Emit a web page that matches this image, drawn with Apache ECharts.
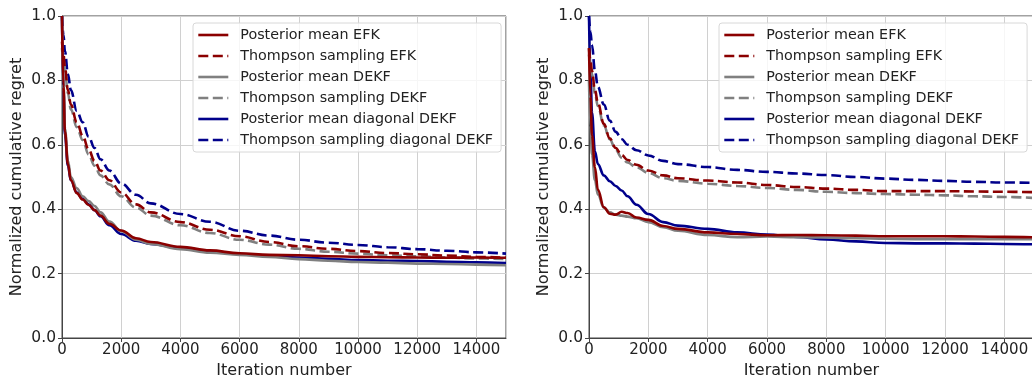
<!DOCTYPE html>
<html>
<head>
<meta charset="utf-8">
<script src="https://cdn.jsdelivr.net/npm/echarts@6/dist/echarts.min.js"></script>
<style>
  html, body { margin: 0; padding: 0; background: #fff; }
  #chart { width: 1032px; height: 377px; }
</style>
</head>
<body>
<div id="chart"></div>
<script>
// iteration numbers shared by every curve
const iters = [0, 50, 100, 200, 300, 500, 700, 900, 1100, 1300, 1600, 2000, 2500, 3000,
  4000, 5000, 6000, 7000, 8000, 9000, 10000, 11000, 12000, 13000, 14000, 15000];

const names = [
  'Posterior mean EFK',
  'Thompson sampling EFK',
  'Posterior mean DEKF',
  'Thompson sampling DEKF',
  'Posterior mean diagonal DEKF',
  'Thompson sampling diagonal DEKF'
];

// left panel
const leftMeanEFK = [1.0, 0.78, 0.64, 0.54, 0.49, 0.45, 0.43, 0.413, 0.397, 0.38, 0.355, 0.334, 0.31, 0.298,
  0.283, 0.272, 0.263, 0.258, 0.257, 0.254, 0.252, 0.251, 0.25, 0.249, 0.25, 0.249];
const leftTsEFK = [0.92, 0.88, 0.84, 0.77, 0.725, 0.67, 0.628, 0.585, 0.55, 0.52, 0.49, 0.452, 0.415, 0.39,
  0.36, 0.336, 0.316, 0.298, 0.285, 0.277, 0.27, 0.264, 0.26, 0.256, 0.252, 0.249];
const leftMeanDEKF = [1.0, 0.79, 0.65, 0.55, 0.5, 0.465, 0.44, 0.425, 0.41, 0.39, 0.362, 0.332, 0.305, 0.292,
  0.276, 0.265, 0.258, 0.252, 0.245, 0.24, 0.236, 0.234, 0.231, 0.23, 0.228, 0.226];
const leftTsDEKF = [0.9, 0.86, 0.83, 0.76, 0.71, 0.655, 0.615, 0.57, 0.535, 0.505, 0.477, 0.44, 0.405, 0.38,
  0.35, 0.326, 0.305, 0.29, 0.277, 0.268, 0.262, 0.257, 0.254, 0.25, 0.247, 0.245];
const leftMeanDiag = [1.0, 0.77, 0.63, 0.535, 0.49, 0.452, 0.432, 0.415, 0.397, 0.378, 0.35, 0.323, 0.302, 0.292,
  0.279, 0.268, 0.261, 0.255, 0.25, 0.246, 0.242, 0.24, 0.239, 0.237, 0.235, 0.233];
const leftTsDiag = [1.0, 0.94, 0.89, 0.82, 0.77, 0.705, 0.67, 0.625, 0.59, 0.555, 0.52, 0.48, 0.445, 0.418,
  0.385, 0.361, 0.333, 0.318, 0.305, 0.296, 0.289, 0.282, 0.276, 0.271, 0.266, 0.262];

// right panel
const rightMeanEFK = [0.9, 0.75, 0.63, 0.53, 0.46, 0.406, 0.386, 0.383, 0.392, 0.388, 0.374, 0.367, 0.348, 0.339,
  0.328, 0.323, 0.319, 0.32, 0.319, 0.318, 0.316, 0.316, 0.316, 0.315, 0.314, 0.313];
const rightTsEFK = [0.9, 0.86, 0.83, 0.77, 0.73, 0.665, 0.62, 0.59, 0.568, 0.553, 0.538, 0.52, 0.505, 0.496,
  0.489, 0.483, 0.475, 0.469, 0.464, 0.46, 0.456, 0.456, 0.456, 0.455, 0.454, 0.453];
const rightMeanDEKF = [0.8, 0.66, 0.57, 0.49, 0.445, 0.405, 0.39, 0.383, 0.38, 0.377, 0.372, 0.36, 0.344, 0.333,
  0.32, 0.313, 0.315, 0.313, 0.312, 0.31, 0.308, 0.307, 0.307, 0.307, 0.307, 0.307];
const rightTsDEKF = [0.88, 0.85, 0.82, 0.76, 0.72, 0.66, 0.617, 0.585, 0.56, 0.545, 0.53, 0.513, 0.496, 0.488,
  0.479, 0.472, 0.466, 0.46, 0.454, 0.45, 0.447, 0.445, 0.443, 0.44, 0.438, 0.435];
const rightMeanDiag = [1.0, 0.82, 0.7, 0.58, 0.54, 0.505, 0.487, 0.472, 0.458, 0.44, 0.414, 0.385, 0.36, 0.349,
  0.339, 0.328, 0.321, 0.314, 0.306, 0.3, 0.295, 0.294, 0.294, 0.293, 0.292, 0.291];
const rightTsDiag = [1.0, 0.95, 0.91, 0.83, 0.78, 0.725, 0.675, 0.64, 0.618, 0.6, 0.583, 0.567, 0.55, 0.54,
  0.531, 0.522, 0.516, 0.511, 0.506, 0.5, 0.495, 0.491, 0.488, 0.485, 0.483, 0.482];

const colors = ['#8b0000', '#8b0000', '#808080', '#808080', '#00008b', '#00008b'];
const dashed = [false, true, false, true, false, true];

const panels = [
  [leftMeanEFK, leftTsEFK, leftMeanDEKF, leftTsDEKF, leftMeanDiag, leftTsDiag],
  [rightMeanEFK, rightTsEFK, rightMeanDEKF, rightTsDEKF, rightMeanDiag, rightTsDiag]
];

const font = 'DejaVu Sans';
const axisColor = '#444';
const gridColor = '#d0d0d0';

function makeSeries(panel, k) {
  return {
    type: 'line',
    name: names[k],
    xAxisIndex: panel,
    yAxisIndex: panel,
    data: iters.map((x, i) => [x, panels[panel][k][i]]),
    symbol: 'none',
    smooth: 0.4,
    smoothMonotone: 'x',
    color: colors[k],
    lineStyle: {
      color: colors[k],
      width: 2.6,
      type: dashed[k] ? [10, 4.5] : 'solid'
    },
    emphasis: { disabled: true },
    z: 10 - k
  };
}

function makeX(i) {
  return {
    type: 'value',
    gridIndex: i,
    min: 0,
    max: 15000,
    interval: 2000,
    name: 'Iteration number',
    nameLocation: 'middle',
    nameGap: 24,
    nameTextStyle: { fontFamily: font, fontSize: 16, color: '#222' },
    axisLine: { show: true, lineStyle: { color: axisColor, width: 1 } },
    axisTick: { show: true, length: 4, lineStyle: { color: axisColor } },
    axisLabel: { fontFamily: font, fontSize: 15, color: '#222', margin: 5, showMaxLabel: false,
      formatter: v => String(v) },
    splitLine: { show: true, lineStyle: { color: gridColor, width: 1 } }
  };
}

function makeY(i) {
  return {
    type: 'value',
    gridIndex: i,
    min: 0,
    max: 1,
    interval: 0.2,
    name: 'Normalized cumulative regret',
    nameLocation: 'middle',
    nameGap: 37,
    nameTextStyle: { fontFamily: font, fontSize: 16, color: '#222' },
    axisLine: { show: true, lineStyle: { color: axisColor, width: 1 } },
    axisTick: { show: true, length: 4, lineStyle: { color: axisColor } },
    axisLabel: { fontFamily: font, fontSize: 15.5, color: '#222', margin: 6, formatter: v => v.toFixed(1) },
    splitLine: { show: true, lineStyle: { color: gridColor, width: 1 } }
  };
}

function makeLegend(left) {
  return {
    orient: 'vertical',
    left: left,
    top: 23,
    data: names,
    itemWidth: 30,
    itemHeight: 14,
    itemGap: 7,
    padding: [5, 8, 5, 4],
    backgroundColor: 'rgba(255,255,255,0.8)',
    borderColor: '#d8d8d8',
    borderWidth: 1,
    borderRadius: 3,
    selectedMode: false,
    itemStyle: { opacity: 0 },
    lineStyle: { width: 2.6 },
    textStyle: { fontFamily: font, fontSize: 14.3, color: '#222', padding: [0, 0, 0, 7] }
  };
}

const gridBase = {
  top: 16, height: 322, show: true, borderColor: axisColor, borderWidth: 1,
  backgroundColor: 'transparent', containLabel: false, outerBoundsMode: 'none'
};

const chart = echarts.init(document.getElementById('chart'));
chart.setOption({
  animation: false,
  backgroundColor: '#fff',
  textStyle: { fontFamily: font },
  grid: [
    Object.assign({ left: 62, width: 444 }, gridBase),
    Object.assign({ left: 589, width: 445 }, gridBase)
  ],
  xAxis: [makeX(0), makeX(1)],
  yAxis: [makeY(0), makeY(1)],
  legend: [makeLegend(193), makeLegend(719)],
  series: [0, 1, 2, 3, 4, 5].map(k => makeSeries(0, k))
    .concat([0, 1, 2, 3, 4, 5].map(k => makeSeries(1, k)))
});
</script>
</body>
</html>
